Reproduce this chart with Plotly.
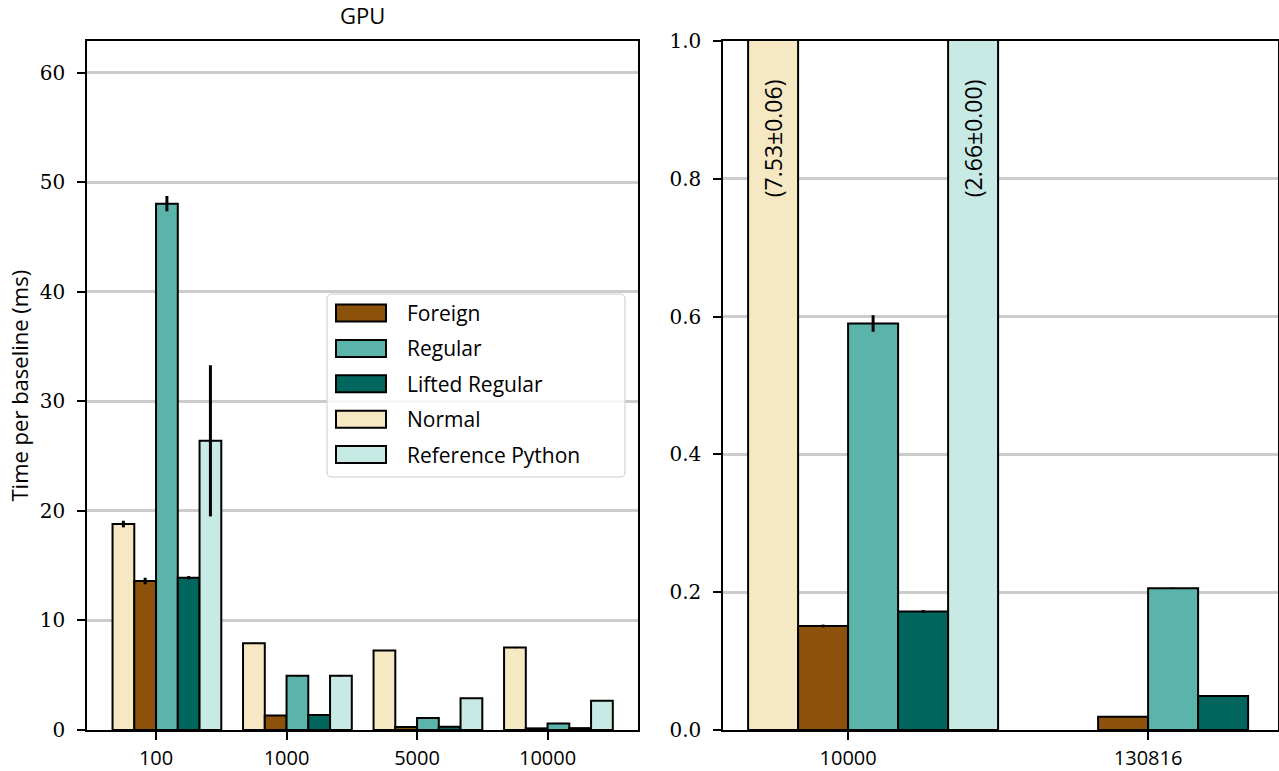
import plotly.graph_objects as go

# ---- data -------------------------------------------------------------
sizes_left = ["100", "1000", "5000", "10000"]
sizes_right = ["10000", "130816"]

series_names = ["Normal", "Foreign", "Regular", "Lifted Regular", "Reference Python"]
series_colors = ["#f6e8c3", "#8c510a", "#5ab4ac", "#01665e", "#c7eae5"]

normal_left = [18.8, 7.92, 7.26, 7.53]
normal_left_err = [0.3, 0.05, 0.05, 0.06]
foreign_left = [13.6, 1.32, 0.27, 0.151]
foreign_left_err = [0.3, 0.03, 0.01, 0.002]
regular_left = [48.05, 4.95, 1.1, 0.59]
regular_left_err = [0.7, 0.05, 0.02, 0.012]
lifted_left = [13.9, 1.37, 0.3, 0.172]
lifted_left_err = [0.15, 0.02, 0.01, 0.002]
refpy_left = [26.4, 4.95, 2.9, 2.66]
refpy_left_err = [6.9, 0.05, 0.02, 0.0]

normal_right = [7.53, None]
normal_right_err = [0.06, None]
foreign_right = [0.151, 0.0193]
foreign_right_err = [0.002, 0.0005]
regular_right = [0.590, 0.2056]
regular_right_err = [0.012, 0.001]
lifted_right = [0.172, 0.0493]
lifted_right_err = [0.002, 0.0005]
refpy_right = [2.66, None]
refpy_right_err = [0.0, None]

legend_order = ["Foreign", "Regular", "Lifted Regular", "Normal", "Reference Python"]

# ---- layout constants -------------------------------------------------
W, H = 1279, 771
SANS = "Open Sans"
SERIF = "DejaVu Serif"
BAR_W = 1 / 6
LEFT_YMAX = 62.9
RIGHT_YMAX = 1.0


def px(x):
    return x / W


def py(y):
    return 1 - y / H


left_series = [
    (normal_left, normal_left_err),
    (foreign_left, foreign_left_err),
    (regular_left, regular_left_err),
    (lifted_left, lifted_left_err),
    (refpy_left, refpy_left_err),
]
right_series = [
    (normal_right, normal_right_err),
    (foreign_right, foreign_right_err),
    (regular_right, regular_right_err),
    (lifted_right, lifted_right_err),
    (refpy_right, refpy_right_err),
]

fig = go.Figure()


def add_group(series, n_cat, xa, ya):
    for k, ((vals, errs), name, color) in enumerate(zip(series, series_names, series_colors)):
        centers = [i + (k - 2 + 0.5) * BAR_W for i in range(n_cat)]
        fig.add_trace(go.Bar(
            x=centers, y=vals, width=BAR_W, name=name,
            marker=dict(color=color, line=dict(color="black", width=2)),
            error_y=dict(type="data", array=errs, color="black", thickness=3, width=0),
            xaxis=xa, yaxis=ya, showlegend=False,
        ))


add_group(left_series, len(sizes_left), "x", "y")
add_group(right_series, len(sizes_right), "x2", "y2")

axis_common = dict(
    showline=True, mirror=True, linecolor="black", linewidth=1.5,
    ticks="outside", ticklen=8, tickwidth=1.5, tickcolor="black",
    zeroline=False,
)
ydom = [py(730), py(41)]
xtick_font = dict(family=SANS, size=20, color="black")
ytick_font = dict(family=SERIF, size=20, color="black")

fig.update_layout(
    width=W, height=H,
    margin=dict(l=0, r=0, t=0, b=0, autoexpand=False),
    paper_bgcolor="white", plot_bgcolor="white",
    barmode="overlay",
    xaxis=dict(domain=[px(87), px(638)], range=[-0.529, 3.693],
               tickvals=list(range(len(sizes_left))), ticktext=sizes_left,
               showgrid=False, tickfont=xtick_font, ticklabelstandoff=1,
               anchor="y", **axis_common),
    yaxis=dict(domain=ydom, range=[0, LEFT_YMAX], dtick=10,
               showgrid=True, gridcolor="#cccccc", gridwidth=2.5,
               tickfont=ytick_font, ticklabelstandoff=8,
               anchor="x", **axis_common),
    xaxis2=dict(domain=[px(723), px(1278)], range=[-0.417, 1.433],
                tickvals=list(range(len(sizes_right))), ticktext=sizes_right,
                showgrid=False, tickfont=xtick_font, ticklabelstandoff=1,
                anchor="y2", **axis_common),
    yaxis2=dict(domain=ydom, range=[0, RIGHT_YMAX], dtick=0.2, tickformat=".1f",
                showgrid=True, gridcolor="#cccccc", gridwidth=2.5,
                tickfont=ytick_font, ticklabelstandoff=8,
                anchor="x2", **axis_common),
)

annotations = []
shapes = []

# title and y-axis label
annotations.append(dict(text="GPU", x=px(362.5), y=py(15), xref="paper", yref="paper",
                        xanchor="center", yanchor="middle", showarrow=False,
                        font=dict(family=SANS, size=22, color="black")))
annotations.append(dict(text="Time per baseline (ms)", x=px(18), y=py(385.5),
                        xref="paper", yref="paper", xanchor="center", yanchor="middle",
                        textangle=-90, showarrow=False,
                        font=dict(family=SANS, size=22, color="black")))

# value labels for bars that run past the right panel's y range
for k, (vals, errs) in enumerate(right_series):
    for i, (v, e) in enumerate(zip(vals, errs)):
        if v is not None and v > RIGHT_YMAX:
            annotations.append(dict(
                text=f"({v:.2f}±{e:.2f})",
                x=i + (k - 2 + 0.5) * BAR_W, y=0.859, xref="x2", yref="y2",
                xanchor="center", yanchor="middle",
                textangle=-90, showarrow=False,
                font=dict(family=SANS, size=23, color="black")))

# legend box drawn in the left panel
lx0, lx1, ly0, ly1, r = 327, 625, 294, 477, 5
path = (f"M {px(lx0 + r)} {py(ly0)} L {px(lx1 - r)} {py(ly0)} "
        f"Q {px(lx1)} {py(ly0)} {px(lx1)} {py(ly0 + r)} "
        f"L {px(lx1)} {py(ly1 - r)} Q {px(lx1)} {py(ly1)} {px(lx1 - r)} {py(ly1)} "
        f"L {px(lx0 + r)} {py(ly1)} Q {px(lx0)} {py(ly1)} {px(lx0)} {py(ly1 - r)} "
        f"L {px(lx0)} {py(ly0 + r)} Q {px(lx0)} {py(ly0)} {px(lx0 + r)} {py(ly0)} Z")
shapes.append(dict(type="path", path=path, xref="paper", yref="paper",
                   fillcolor="rgba(255,255,255,0.8)", line=dict(color="#cccccc", width=1)))
for j, name in enumerate(legend_order):
    cy = 313 + j * 35.4
    color = series_colors[series_names.index(name)]
    shapes.append(dict(type="rect", xref="paper", yref="paper",
                       x0=px(336), x1=px(386), y0=py(cy + 8.5), y1=py(cy - 8.5),
                       fillcolor=color, line=dict(color="black", width=2)))
    annotations.append(dict(text=name, x=px(405), y=py(cy), xref="paper", yref="paper",
                            xanchor="left", yanchor="middle", showarrow=False,
                            font=dict(family=SANS, size=21, color="black")))

fig.update_layout(annotations=annotations, shapes=shapes)

fig.write_html("out.html")
